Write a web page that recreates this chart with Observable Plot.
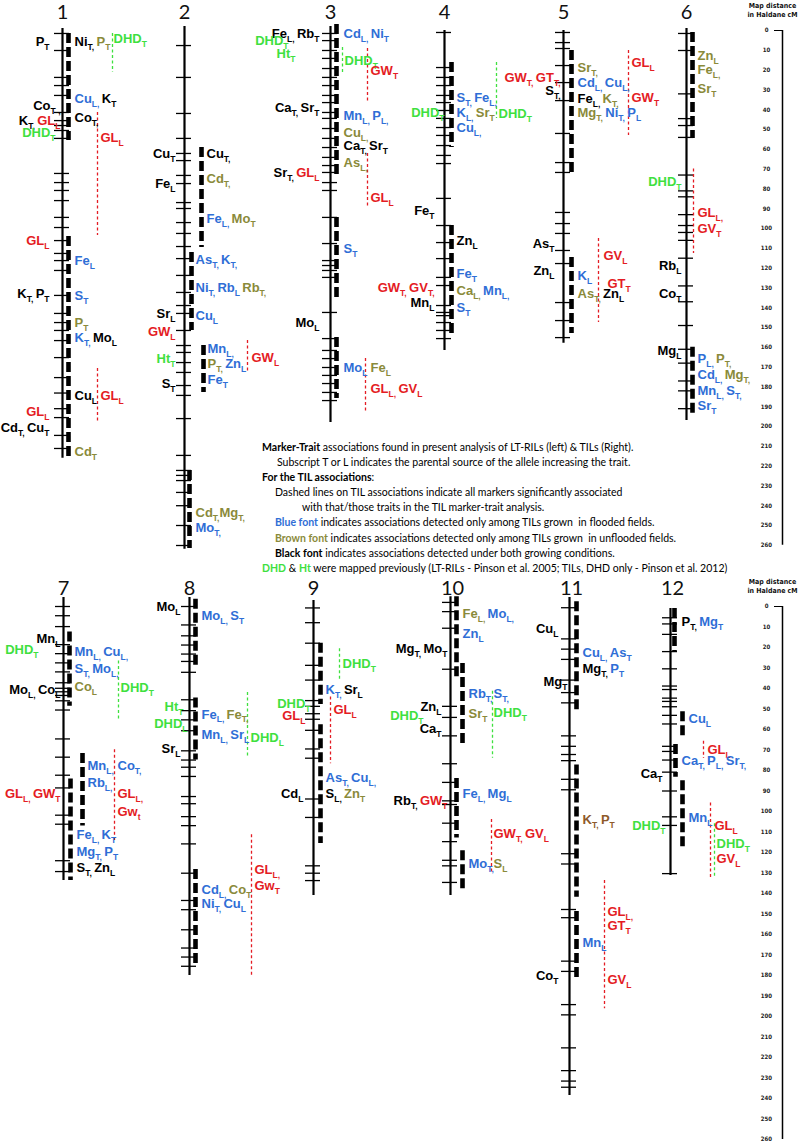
<!DOCTYPE html>
<html><head><meta charset="utf-8">
<script src="https://cdn.jsdelivr.net/npm/d3@7"></script>
<script src="https://cdn.jsdelivr.net/npm/@observablehq/plot@0.6"></script>
<style>
body{margin:0;background:#fff;}
#wrap{position:relative;width:798px;height:1148px;overflow:hidden;background:#fff;}
#wrap svg{position:absolute;left:0;display:block;}
#legend{position:absolute;left:262px;top:440px;font-family:Lato,"Open Sans",sans-serif;line-height:15.1px;white-space:pre;color:#000;}
#legend div{height:15.1px;}
</style></head>
<body><div id="wrap"></div>
<script>
// ---------------- DATA (cM) ----------------
// [chromosome, row, start cM, end cM]
const chromosomes = [
 [1,0,-1,216],[2,0,-2,262],[3,0,-2,198],[4,0,0,161.6],[5,0,0,158],[6,0,-1,197],
 [7,1,-4.4,133.7],[8,1,-4.4,180],[9,1,-2.9,141],[10,1,-4.7,141],[11,1,-4.4,238.5],[12,1,1,131.2]
];
// marker positions (cM)
const markers = {
 1:[1.5,10.1,23.7,27.8,32.8,41.4,45.5,48,50.5,54.5,72.2,76.8,80.8,85.9,94.4,99.5,106.1,112.6,116.2,121.2,133.8,142.9,147.5,151.5,156.6,165.2,175.3,183.1,191,195.5,204.5,211.1],
 2:[7.6,23.7,41.9,54.5,62.1,65.7,73.2,77.3,86.9,89.9,97,102.5,109.1,115.2,123.7,132.3,138.9,142.9,151.5,159.1,162.6,167.7,172.7,179.3,184.3,196,214.6,222.2,224.7,227.3,233.3,240,250,260.1],
 3:[1.5,5.1,10.1,14.1,19.2,23.7,27.8,32.8,36.4,41.4,44.4,49.5,54.5,59.1,64.1,68.2,71.7,76.8,80.8,94.4,107.6,116.2,118.7,121.2,124.7,142.4,155.6,161.6,165.7,170.2,174.2,178.3,182.8,186.9],
 4:[1,18.7,23.7,27.8,32.8,36.4,40.4,44.4,49,53,58.1,63.1,67.2,84.8,98.5,107.1,115.2,124.7,128.8,138.9,142.4,144,147.5,151.5,155.6],
 5:[1,6.1,9.1,17.7,26.3,35.4,52,66.7,71.7,91.9,97.5,102.5,111.1,117.7,137.4,146.5,155.1],
 6:[1.5,10.1,32,44.5,48,54,73,81,84,93,98.5,102,106,115,129,137,149,161,168,177,182,191],
 7:[0,4.5,9.8,18.6,23,27.5,31.9,37.2,39.9,41.6,43.4,46,50.5,64.6,73.5,82.3,88.5,101.8,106.2,124,129.3],
 8:[0,9,14.3,18.8,23.2,26.8,32.1,45.5,50.8,55.3,60.6,70.4,74.9,78.4,82.9,92.7,96.2,102.5,106.9,115.8,130.1,143.4,147.9,157.7,166.6,171,175.5],
 9:[0.7,7.9,17.9,28.7,35.9,45.9,48.7,52.3,55,60.4,69.5,74,93.9,102.9,126.5,130.1,133.7],
 10:[-2,2.5,10.6,30.6,48.7,54.1,63.1,76.7,85.8,94.8,96.6,105.7,114.7,123.8,126.5,134.6],
 11:[0.6,15.8,20.8,25.8,35.9,42,47,63.1,68.2,72.2,75.2,84.3,89.4,120.6,125.6,147.8,151.8,173,178,194.2,199.2,215.3,226.4,231.5,234.5],
 12:[5.5,8.5,13.6,22,30.4,38.8,40.5,44.7,46.3,48.9,53.1,57.3,68.2,70.7,74.9,80.8,90,102.6,106.8,130.3]
};
// TIL introgression segments: [chromosome, lane, start cM, end cM]
const tilSegments = [
 [1,0,1.5,55.6],[1,0,104,216],
 [2,0,59.1,109.6],[2,1,112.1,151.5],[2,2,159.1,182.8],[2,3,222.2,261.6],
 [3,0,-3,73.2],[3,0,94.4,136.4],[3,0,155,185.9],
 [4,0,16.2,59.1],[4,0,98.5,155.1],
 [5,0,10.1,72.2],[5,0,114.6,153],
 [6,0,1,54.5],[6,0,160,193.5],
 [7,0,12.4,48.7],[7,1,71.7,107.1],[7,2,84.1,133.7],
 [8,0,-3.5,29.4],[8,0,44.6,74.9],[8,0,128.3,174.6],
 [9,0,17.9,47.8],[9,0,57.7,115.6],
 [10,0,-4.7,35.1],[10,1,27.8,67.7],[10,0,83.9,112.9],[10,1,119.2,138.2],
 [11,0,-2.3,52.1],[11,0,77.3,141.8],[11,0,148.8,181.1],
 [12,0,1,22],[12,1,51.4,64],[12,2,67.3,83.3],[12,1,85,117.7]
];
// TIL association spans (dashed): [chromosome, colour key, start cM, end cM, lane]
const associationSpans = [
 [1,"g",1.5,21.2,0],[1,"r",41.4,103.5,1],[1,"r",170.7,198.5,1],
 [2,"r",156.6,172.7,0],
 [3,"g",8.6,21.7,0],[3,"r",9.1,36.9,1],[3,"r",62.1,89.9,1],[3,"r",165.7,193.4,2],
 [4,"g",16.2,44.4,0],
 [5,"r",10.1,53,0],[5,"r",105,147.5,1],
 [6,"r",70,112.6,0],
 [7,"g",26.6,55.8,0],[7,"r",69.9,114.2,1],
 [8,"g",41.9,74,0],[8,"r",111.4,180,1],
 [9,"g",20.6,36,0],[9,"r",44.1,76.7,1],
 [10,"g",41.4,74,0],[10,"r",103.9,130.1,1],
 [11,"r",133.7,196.2,0],
 [12,"r",65.7,74.1,0],[12,"r",95.9,132.9,1],[12,"g",106,132,2]
];
// trait labels: [chromosome, cM, slot, "colour:Element_Subscript" markup]
const traitLabels = [
 [1,5.5,"R","k:Ni_T, o:P_T"],[1,4,"B","g:DHD_T"],[1,5.5,"L","k:P_T"],
 [1,34.5,"R","b:Cu_L, k:K_T"],[1,37.9,"L2","k:Co_T ,"],[1,45.5,"L2","k:K_T, r:GL_L"],
 [1,43.9,"R","k:Co_T,"],[1,51.5,"L3","g:DHD_T"],[1,54,"A","r:GL_L"],
 [1,106,"L","r:GL_L"],[1,116.2,"R","b:Fe_L"],[1,133,"L","k:K_T, k:P_T"],[1,134,"R","b:S_T"],
 [1,147.5,"R","o:P_T"],[1,155,"R","b:K_T, k:Mo_L"],[1,184.3,"R","k:Cu_L"],[1,184.3,"A","r:GL_L"],
 [1,192.8,"L","r:GL_L"],[1,200.5,"L","k:Cd_T, k:Cu_T"],[1,213,"R","o:Cd_T"],
 [2,62.1,"L","k:Cu_T"],[2,62.1,"A","k:Cu_T,"],[2,77.3,"L","k:Fe_L"],[2,74.7,"A","o:Cd_T,"],
 [2,94.9,"A","b:Fe_L, o:Mo_T"],[2,115.7,"R","b:As_T, b:K_T,"],[2,129.8,"R","b:Ni_T, b:Rb_L o:Rb_T,"],
 [2,143.9,"R","b:Cu_L"],[2,142.9,"L","k:Sr_L"],[2,152,"L","r:GW_L"],[2,160.6,"C","b:Mn_L,"],
 [2,168.2,"C","o:P_T, b:Zn_L"],[2,165.2,"B","r:GW_L"],[2,165.7,"L","g:Ht_T"],[2,176.3,"C","b:Fe_T"],
 [2,178.3,"L","k:S_T"],[2,243.4,"R","o:Cd_T,o:Mg_T,"],[2,251,"R","b:Mo_T,"],
 [3,1.5,"L","k:Fe_L, k:Rb_T"],[3,1.5,"R","b:Cd_L, b:Ni_T"],[3,5,"L2","g:DHD_T"],[3,11.6,"L3","g:Ht_T"],
 [3,15.2,"A","g:DHD_T"],[3,20.2,"B","r:GW_T"],[3,38.9,"L","k:Ca_T, k:Sr_T"],[3,43,"R","b:Mn_L, b:P_L,"],
 [3,51.5,"R","o:Cu_L,"],[3,58.1,"R","k:Ca_T, k:Sr_T"],[3,66.7,"R","o:As_L,"],[3,71.7,"L","k:Sr_T, r:GL_L"],
 [3,84.3,"B","r:GL_L"],[3,110.1,"R","b:S_T"],[3,147.5,"L","k:Mo_L"],[3,170.2,"R","b:Mo_L"],
 [3,170.2,"B","o:Fe_L"],[3,180.8,"B","r:GL_L, r:GV_L"],
 [4,33.8,"R","b:S_T, b:Fe_L,"],[4,41.4,"L2","g:DHD_T"],[4,41.4,"R","b:K_L, o:Sr_T"],[4,42,"A","g:DHD_T"],
 [4,49,"R","b:Cu_L,"],[4,90.9,"L","k:Fe_T"],[4,106.1,"R","k:Zn_L"],[4,122.7,"R","b:Fe_T"],
 [4,129.8,"L","r:GW_T, r:GV_T,"],[4,131.3,"R","o:Ca_L, b:Mn_L,"],[4,137.4,"L","k:Mn_L"],[4,139.9,"R","b:S_T"],
 [5,18.7,"R","o:Sr_T,"],[5,23.7,"L2","r:GW_T, r:GT_T,"],[5,16.2,"A","r:GL_L"],[5,26.3,"R","b:Cd_L, b:Cu_L,"],
 [5,30.3,"L2","k:S_T,"],[5,34.3,"R","k:Fe_L, o:K_T,"],[5,33.8,"A","r:GW_T"],[5,41.4,"R","o:Mg_T, b:Ni_T, b:P_L"],
 [5,107.6,"L","k:As_T"],[5,121.2,"L","k:Zn_L"],[5,113.6,"B","r:GV_L"],[5,123.7,"R","b:K_L"],
 [5,127.8,"C","r:GT_T"],[5,132.8,"R","o:As_T, k:Zn_L"],
 [6,12.6,"R","o:Zn_L"],[6,20,"R","o:Fe_L,"],[6,29.5,"R","o:Sr_T"],[6,76.5,"L","g:DHD_T"],
 [6,92,"R","r:GL_L,"],[6,100,"R","r:GV_T"],[6,118.7,"L","k:Rb_L"],[6,133,"L","k:Co_T"],
 [6,161.6,"L","k:Mg_L"],[6,165.7,"R","b:P_L, o:P_T,"],[6,174,"R","b:Cd_L, o:Mg_T,"],
 [6,182,"R","b:Mn_L, b:S_T,"],[6,189.4,"R","b:Sr_T"],
 [7,16,"L","k:Mn_L"],[7,21.3,"L2","g:DHD_T"],[7,22.2,"R","b:Mn_L, b:Cu_L,"],[7,30.5,"R","b:S_T, b:Mo_L,"],
 [7,40.7,"L","k:Mo_L, k:Co_L"],[7,39,"R","o:Co_L"],[7,39.9,"B","g:DHD_T"],[7,77.9,"A","b:Mn_L,"],
 [7,77.9,"C","b:Co_T,"],[7,85.9,"A","b:Rb_L,"],[7,91.2,"L","r:GL_L, r:GW_T"],[7,91.2,"C","r:GL_L,"],
 [7,100,"C","r:Gw_t"],[7,111.5,"D","b:Fe_L, b:K_T"],[7,119.5,"D","b:Mg_T, b:P_T"],[7,127.5,"D","k:S_T, k:Zn_L"],
 [8,0,"L","k:Mo_L"],[8,4.5,"R","b:Mo_L, b:S_T"],[8,49,"L2","g:Ht_T"],[8,52.6,"R","b:Fe_L, o:Fe_T,"],
 [8,57,"L3","g:DHD_L"],[8,62.4,"R","b:Mn_L, b:Sr_L"],[8,64.2,"A","g:DHD_L"],[8,69.5,"L","k:Sr_L"],
 [8,128.3,"B","r:GL_L,"],[8,136.3,"B","r:Gw_T"],[8,138.1,"R","b:Cd_L, o:Co_T"],[8,145.2,"R","b:Ni_T, b:Cu_L"],
 [9,28.2,"A","g:DHD_T"],[9,40.5,"R","b:K_T, k:Sr_L"],[9,47.5,"L2","g:DHD_T"],[9,53.2,"L3","r:GL_L"],
 [9,50.5,"B","r:GL_L"],[9,83.6,"R","b:As_T, b:Cu_L,"],[9,91.5,"L","k:Cd_L"],[9,91.5,"R","k:S_L, o:Zn_T"],
 [10,3.4,"R","o:Fe_L, b:Mo_L,"],[10,13.4,"R","b:Zn_L"],[10,20.5,"L2","k:Mg_T, k:Mo_T"],[10,42.7,"A","b:Rb_T,"],
 [10,42.7,"B","b:S_T,"],[10,51.7,"B","g:DHD_T"],[10,52.3,"A","o:Sr_T"],[10,49,"L","k:Zn_L"],
 [10,53.5,"L3","g:DHD_T"],[10,59.5,"L","k:Ca_T"],[10,91.5,"R","b:Fe_L, b:Mg_L"],[10,94.8,"L2","k:Rb_T, r:GW_T"],
 [10,111.1,"B","r:GW_T, r:GV_L"],[10,125.6,"A","b:Mo_T,"],[10,125.6,"B","o:S_L"],
 [11,10.7,"L","k:Cu_L"],[11,22.4,"R","b:Cu_L, b:As_T"],[11,30.5,"R","k:Mg_T, b:P_T"],[11,36.9,"L2","k:Mg_T"],
 [11,103.9,"R","n:K_T, n:P_T"],[11,148.8,"A","r:GL_L,"],[11,155.9,"A","r:GT_T"],[11,164,"R","b:Mn_L"],
 [11,180.1,"L","k:Co_T"],[11,182.1,"A","r:GV_L"],
 [12,7.7,"R","k:P_T, b:Mg_T"],[12,54.7,"A","b:Cu_L"],[12,69.9,"B","r:GL_L"],[12,75.2,"R","b:Ca_T, b:P_L, b:Sr_T,"],
 [12,81.6,"L","k:Ca_T"],[12,103.1,"A","b:Mn_L"],[12,106.8,"C","r:GL_L"],[12,106.8,"L2","g:DHD_T"],
 [12,116,"D","g:DHD_T"],[12,123.1,"D","r:GV_L"]
];
const scaleTicks = d3.range(0, 261, 10);
const scaleTitle = ["Map distance", "in Haldane cM"];

// ---------------- LAYOUT / STYLE ----------------
const palette = {k:"#000000", b:"#2F6ED6", o:"#8A8A3A", r:"#E41C24", g:"#3FE03F", n:"#8E5A2A"};
const chromX = {1:62,2:184,3:330,4:444,5:563,6:686,7:63,8:189,9:313,10:450,11:569,12:670};
const segDx = {1:[6],2:[17,7,19,5],3:[6],4:[7],5:[8],6:[6],7:[6,19,7],8:[6],9:[7],10:[6,12],11:[7],12:[4,12,5]};
const spanDx = {1:[50,35],2:[63],3:[12,37,35],4:[52],5:[65,35],6:[7],7:[55,51],8:[58,62],9:[26,17],10:[42,41],11:[35],12:[33,40,44]};
const slots = {
 1:{L:-13,L2:-2,L3:-7,R:12,A:38,B:51}, 2:{L:-9,R:11,A:22,B:67,C:23}, 3:{L:-11,L2:-42,L3:-35,R:13,A:14,B:40},
 4:{L:-10,L2:0,R:12,A:54}, 5:{L:-9,L2:-3,R:14,A:68,B:40,C:44}, 6:{L:-5,R:11},
 7:{L:-3,L2:-25,R:11,A:24,B:57,C:54,D:13}, 8:{L:-9,L2:-6,L3:-2,R:12,A:61,B:65},
 9:{L:-10,L2:-3,L3:-8,R:12,A:29,B:20}, 10:{L:-9,L2:-3,L3:-27,R:12,A:18,B:43},
 11:{L:-11,L2:-2,R:13,A:38}, 12:{L:-8,L2:-5,R:11,A:18,B:37,C:44,D:46}
};
const scaleX = 782;
const rows = [
 {y0:30, k:1.98, top:0, height:578},
 {y0:606, k:2.05, top:578, height:570}
];
const LABEL_FONT = "'Liberation Sans', Arial, sans-serif";
const SUB = 8.5, SHIFT = 4;

const NS = "http://www.w3.org/2000/svg";
function richify(el, markup) {
  while (el.firstChild) el.removeChild(el.firstChild);
  el.style.whiteSpace = "pre";
  const re = /([kbogrn]):([A-Za-z]+)_([A-Za-z]+)/g;
  let m, last = 0, low = false, color = palette.k;
  const add = (txt, attrs) => {
    const t = document.createElementNS(NS, "tspan");
    t.textContent = txt;
    for (const a in attrs) t.setAttribute(a, attrs[a]);
    el.appendChild(t);
  };
  while ((m = re.exec(markup))) {
    const lit = markup.slice(last, m.index);
    if (lit) add(lit, low ? {"font-size": SUB, fill: color} : {fill: color});
    color = palette[m[1]];
    add(m[2], low ? {fill: color, dy: -SHIFT} : {fill: color});
    add(m[3], {fill: color, "font-size": SUB, dy: SHIFT});
    low = true;
    last = re.lastIndex;
  }
  const tail = markup.slice(last);
  if (tail) add(tail, {fill: color, "font-size": SUB});
}

function makeRow(r) {
  const R = rows[r];
  const chrs = chromosomes.filter(c => c[1] === r);
  const ids = new Set(chrs.map(c => c[0]));
  const ticks = [];
  for (const c of ids) for (const v of markers[c]) ticks.push({chr: c, cM: v});
  const segs = tilSegments.filter(s => ids.has(s[0]));
  const spans = associationSpans.filter(s => ids.has(s[0]));
  const labs = traitLabels.filter(l => ids.has(l[0]));
  const leftLabs = labs.filter(l => l[2][0] === "L");
  const rightLabs = labs.filter(l => l[2][0] !== "L");
  const px = v => v / R.k; // px offset -> cM offset
  const svg = Plot.plot({
    width: 798, height: R.height, margin: 0,
    style: {background: "transparent", overflow: "visible"},
    x: {domain: [0, 798], range: [0, 798], axis: null},
    y: {domain: [0, 260], range: [R.y0 - R.top, R.y0 - R.top + 260 * R.k], axis: null},
    marks: [
      Plot.ruleX(chrs, {x: d => chromX[d[0]], y1: d => d[2], y2: d => d[3], stroke: "#000", strokeWidth: 2.2}),
      Plot.ruleY(ticks, {y: "cM", x1: d => chromX[d.chr] - 8, x2: d => chromX[d.chr] + 7, stroke: "#000", strokeWidth: 1.3}),
      Plot.ruleX(segs, {x: d => chromX[d[0]] + segDx[d[0]][d[1]], y1: d => d[2], y2: d => d[3], stroke: "#000", strokeWidth: 4.6, strokeDasharray: "10,4"}),
      Plot.ruleX(spans.filter(s => s[1] === "r"), {x: d => chromX[d[0]] + spanDx[d[0]][d[4]], y1: d => d[2], y2: d => d[3], stroke: palette.r, strokeWidth: 1.3, strokeDasharray: "3,2.5"}),
      Plot.ruleX(spans.filter(s => s[1] === "g"), {x: d => chromX[d[0]] + spanDx[d[0]][d[4]], y1: d => d[2], y2: d => d[3], stroke: palette.g, strokeWidth: 1.3, strokeDasharray: "3,2.5"}),
      Plot.text(leftLabs, {x: d => chromX[d[0]] + slots[d[0]][d[2]], y: d => d[1], text: (d, i) => "\u00A7L" + i, textAnchor: "end", fontSize: 13, fontWeight: "bold", fontFamily: LABEL_FONT}),
      Plot.text(rightLabs, {x: d => chromX[d[0]] + slots[d[0]][d[2]], y: d => d[1], text: (d, i) => "\u00A7R" + i, textAnchor: "start", fontSize: 13, fontWeight: "bold", fontFamily: LABEL_FONT}),
      Plot.text(chrs, {x: d => chromX[d[0]] + (d[0] >= 10 ? 2 : 0), y: px(-18), text: d => String(d[0]), fontSize: 20, fontFamily: "Lato, sans-serif", fill: "#111"}),
      Plot.ruleX([scaleX], {y1: 0, y2: 260, stroke: "#000", strokeWidth: 1.5}),
      Plot.ruleY([0], {x1: scaleX - 8, x2: scaleX, stroke: "#000", strokeWidth: 1}),
      Plot.text(scaleTicks, {x: 766, y: d => d, text: d => String(d), fontSize: 6, fontWeight: "bold", fontFamily: "'DejaVu Sans Condensed', 'DejaVu Sans', sans-serif", fill: "#222"}),
      Plot.text(scaleTitle, {x: 772, y: (d, i) => px(i === 0 ? -25 : -15.5), text: d => d, fontSize: 7, fontWeight: "bold", fontFamily: "'DejaVu Sans Condensed', 'DejaVu Sans', sans-serif", fill: "#111"})
    ]
  });
  svg.style.top = R.top + "px";
  svg.querySelectorAll("text").forEach(t => {
    const m = /^\u00A7([LR])(\d+)$/.exec(t.textContent);
    if (m) richify(t, (m[1] === "L" ? leftLabs : rightLabs)[+m[2]][3]);
  });
  return svg;
}

const wrap = document.getElementById("wrap");
wrap.appendChild(makeRow(0));
wrap.appendChild(makeRow(1));

// ---------------- LEGEND ----------------
const legendLines = [
 [0, [["Marker-Trait","b",""],[" associations found in present analysis of LT-RILs (left) & TILs (Right).","",""]]],
 [15, [["Subscript T or L indicates the parental source of the allele increasing the trait.","",""]]],
 [0, [["For the TIL associations","b",""],[":","",""]]],
 [13, [["Dashed lines on TIL associations indicate all markers significantly associated","",""]]],
 [40, [["with that/those traits in the TIL marker-trait analysis.","",""]]],
 [13, [["Blue font","b","b"],[" indicates associations detected only among TILs grown  in flooded fields.","",""]]],
 [13, [["Brown font","b","o"],[" indicates associations detected only among TILs grown  in unflooded fields.","",""]]],
 [13, [["Black font","b",""],[" indicates associations detected under both growing conditions.","",""]]],
 [0, [["DHD","b","g"],[" & ","",""],["Ht","b","g"],[" were mapped previously (LT-RILs - Pinson et al. 2005; TILs, DHD only - Pinson et al. 2012)","",""]]]
];
const ctx = document.createElement("canvas").getContext("2d");
const widthAt = (segs, fs) => segs.reduce((w, s) => { ctx.font = (s[1] ? "bold " : "") + fs + "px Lato"; return w + ctx.measureText(s[0]).width; }, 0);
const legendFs = (12 * 407 / widthAt(legendLines[6][1], 12) + 12 * 461 / widthAt(legendLines[8][1], 12)) / 2;
const legend = document.createElement("div");
legend.id = "legend";
legend.style.fontSize = legendFs.toFixed(2) + "px";
for (const [indent, segs] of legendLines) {
  const line = document.createElement("div");
  line.style.paddingLeft = indent + "px";
  for (const [txt, bold, col] of segs) {
    const s = document.createElement("span");
    s.textContent = txt;
    if (bold) s.style.fontWeight = "bold";
    if (col) s.style.color = palette[col];
    line.appendChild(s);
  }
  legend.appendChild(line);
}
wrap.appendChild(legend);
</script></body></html>
